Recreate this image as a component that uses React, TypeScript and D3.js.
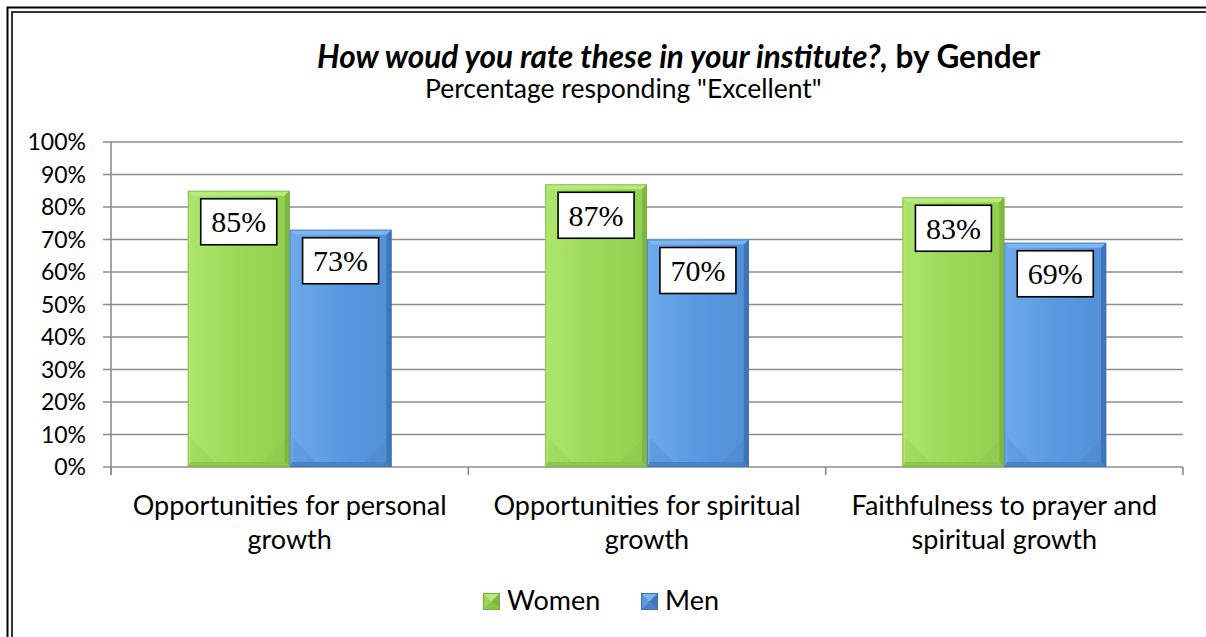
import React from "react";
import * as d3 from "d3";

const categories = [
  ["Opportunities for personal", "growth"],
  ["Opportunities for spiritual", "growth"],
  ["Faithfulness to prayer and", "spiritual growth"],
];
const seriesNames = ["Women", "Men"];
const women = [85, 87, 83];
const men = [73, 70, 69];
const yTicks = [0, 10, 20, 30, 40, 50, 60, 70, 80, 90, 100];

const W = 1206;
const H = 637;
const plot = { left: 111, right: 1183, top: 142, bottom: 467 };

const palettes = [
  { main: "#9ad957", light: "#aee66e", top: "#b8ea80", dark: "#7fb840", bottom: "#8bc84a", shade: "#92cf50", edge: "#77ad3b" },
  { main: "#5a99df", light: "#6eaaec", top: "#7db5ef", dark: "#3f74b8", bottom: "#4a82c8", shade: "#5290d6", edge: "#3d6fae" },
];

const sans = "Lato, 'Open Sans', sans-serif";

export default function App() {
  const x0 = d3
    .scaleBand<number>()
    .domain(d3.range(categories.length))
    .range([plot.left, plot.right])
    .paddingInner(0)
    .paddingOuter(0);
  const groupW = x0.bandwidth() * 0.57;
  const x1 = d3.scaleBand<number>().domain([0, 1]).range([0, groupW]).padding(0);
  const y = d3.scaleLinear().domain([0, 100]).range([plot.bottom, plot.top]);
  const series = [women, men];

  const bars: any[] = [];
  series.forEach((vals, si) => {
    vals.forEach((v, ci) => {
      const bx = x0(ci)! + (x0.bandwidth() - groupW) / 2 + x1(si)!;
      const bw = x1.bandwidth();
      const by = y(v);
      const bb = y(0);
      bars.push({ si, ci, v, bx, bw, by, bb });
    });
  });

  const bevelBar = (b: any, key: string) => {
    const p = palettes[b.si];
    const { bx, bw, by, bb } = b;
    const e = 5;
    const h = bb - by;
    const sb = Math.min(32, h / 2);
    const gid = `g-${key}`;
    return (
      <g key={key}>
        <defs>
          <linearGradient id={gid} x1="0" x2="1" y1="0" y2="0">
            <stop offset="0" stopColor={p.light} />
            <stop offset="0.5" stopColor={p.main} />
            <stop offset="1" stopColor={p.shade} />
          </linearGradient>
        </defs>
        <rect x={bx} y={by} width={bw} height={h} fill={`url(#${gid})`} />
        <polygon
          points={`${bx},${bb - sb} ${bx + sb},${bb} ${bx + bw - sb},${bb} ${bx + bw},${bb - sb} ${bx + bw},${bb} ${bx},${bb}`}
          fill={p.bottom}
          opacity={0.3}
        />
        <polygon points={`${bx},${by} ${bx + bw},${by} ${bx + bw - e},${by + e} ${bx + e},${by + e}`} fill={p.top} />
        <polygon points={`${bx},${by} ${bx + e - 2},${by + e} ${bx + e - 2},${bb - e} ${bx},${bb}`} fill={p.light} />
        <polygon points={`${bx + bw},${by} ${bx + bw - e},${by + e} ${bx + bw - e},${bb - e} ${bx + bw},${bb}`} fill={p.dark} />
        <polygon points={`${bx},${bb} ${bx + e - 2},${bb - e} ${bx + bw - e},${bb - e} ${bx + bw},${bb}`} fill={p.bottom} />
        <rect x={bx + 0.5} y={by + 0.5} width={bw - 1} height={h - 1} fill="none" stroke={p.edge} strokeWidth={1} opacity={0.6} />
      </g>
    );
  };

  const boxW = 76;
  const boxH = 46;

  return (
    <svg
      width={W}
      height={H}
      style={{ position: "absolute", left: 0, top: 0, background: "#fff" }}
      xmlns="http://www.w3.org/2000/svg"
    >
      <rect x={0} y={0} width={W} height={H} fill="#fff" />
      <rect x={7.5} y={7.5} width={W + 100} height={H + 100} fill="none" stroke="#000" strokeWidth={2} />
      <rect x={12} y={12} width={W + 100} height={H + 100} fill="none" stroke="#000" strokeWidth={1.6} />

      {/* title */}
      <text x={317} y={68} textAnchor="start" fontFamily={sans} fontSize={31.5} fill="#000">
        <tspan fontWeight="bold" fontStyle="italic">How woud you rate these in your institute?,</tspan>
        <tspan fontWeight="bold"> by Gender</tspan>
      </text>
      <text x={425} y={98} textAnchor="start" fontFamily={sans} fontSize={26.5} fill="#000">
        Percentage responding "Excellent"
      </text>

      {/* gridlines */}
      {yTicks.map((t) => (
        <g key={t}>
          <line x1={plot.left - 8} x2={plot.right} y1={y(t)} y2={y(t)} stroke="#8c8c8c" strokeWidth={1.6} />
          <text x={86} y={y(t)} dy="0.36em" textAnchor="end" fontFamily={sans} fontSize={23} fill="#000">
            {t}%
          </text>
        </g>
      ))}
      <line x1={plot.left} x2={plot.left} y1={plot.top} y2={plot.bottom + 8} stroke="#8c8c8c" strokeWidth={1.6} />
      {d3.range(categories.length + 1).map((i) => {
        const xx = i < categories.length ? x0(i)! : plot.right;
        return <line key={i} x1={xx} x2={xx} y1={plot.bottom} y2={plot.bottom + 8} stroke="#8c8c8c" strokeWidth={1.6} />;
      })}

      {bars.map((b) => bevelBar(b, `${b.si}-${b.ci}`))}

      {bars.map((b) => {
        const cx = b.bx + b.bw / 2;
        const top = b.by + 8;
        return (
          <g key={`l-${b.si}-${b.ci}`}>
            <rect x={cx - boxW / 2} y={top} width={boxW} height={boxH} fill="#fff" stroke="#000" strokeWidth={1.6} />
            <text
              x={cx}
              y={top + boxH / 2}
              dy="0.35em"
              textAnchor="middle"
              fontFamily="'Liberation Serif', 'Times New Roman', serif"
              fontSize={30}
              fill="#000"
            >
              {b.v}%
            </text>
          </g>
        );
      })}

      {categories.map((lines, i) => (
        <text key={i} x={x0(i)! + x0.bandwidth() / 2} y={515} textAnchor="middle" fontFamily={sans} fontSize={27} fill="#000">
          {lines.map((l, k) => (
            <tspan key={k} x={x0(i)! + x0.bandwidth() / 2} dy={k === 0 ? 0 : 34}>
              {l}
            </tspan>
          ))}
        </text>
      ))}

      {seriesNames.map((name, i) => {
        const lx = [483, 641][i];
        const p = palettes[i];
        const s = 17;
        const ly = 593;
        return (
          <g key={name}>
            <rect x={lx} y={ly} width={s} height={s} fill={p.main} />
            <polygon points={`${lx},${ly} ${lx + s},${ly} ${lx + s / 2},${ly + s / 2}`} fill={p.top} />
            <polygon points={`${lx + s},${ly} ${lx + s},${ly + s} ${lx + s / 2},${ly + s / 2}`} fill={p.dark} />
            <polygon points={`${lx},${ly + s} ${lx + s},${ly + s} ${lx + s / 2},${ly + s / 2}`} fill={p.bottom} />
            <rect x={lx + 0.5} y={ly + 0.5} width={s - 1} height={s - 1} fill="none" stroke={p.edge} strokeWidth={1} />
            <text x={lx + 24} y={ly + 17} fontFamily={sans} fontSize={27} fill="#000">
              {name}
            </text>
          </g>
        );
      })}
    </svg>
  );
}
